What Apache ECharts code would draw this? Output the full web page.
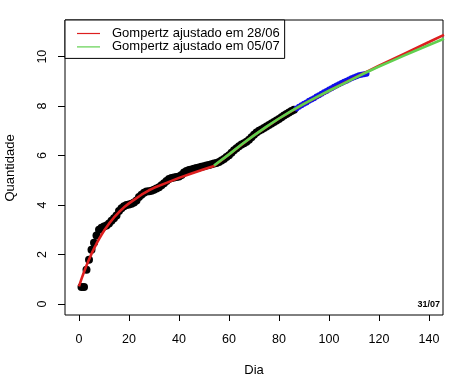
<!DOCTYPE html>
<html>
<head>
<meta charset="utf-8">
<script src="https://cdn.jsdelivr.net/npm/echarts@6/dist/echarts.min.js"></script>
<style>
html,body{margin:0;padding:0;background:#fff;}
#chart{width:457px;height:382px;}
</style>
</head>
<body>
<div id="chart"></div>
<script>
// ---- Data ----
const xTicks = [0, 20, 40, 60, 80, 100, 120, 140];
const yTicks = [0, 2, 4, 6, 8, 10];

// observed (black) : days 1..86
const obsFirstDay = 1;
const obsValues = [
  0.69, 0.69, 1.39, 1.79, 2.20, 2.48, 2.77, 3.00, 3.09, 3.14,
  3.18, 3.26, 3.37, 3.47, 3.58, 3.76, 3.87, 3.95, 4.00, 4.02,
  4.06, 4.11, 4.19, 4.33, 4.42, 4.50, 4.55, 4.56, 4.58, 4.62,
  4.67, 4.72, 4.80, 4.88, 4.97, 5.06, 5.10, 5.12, 5.14, 5.16,
  5.22, 5.32, 5.38, 5.42, 5.44, 5.47, 5.50, 5.52, 5.55, 5.57,
  5.60, 5.62, 5.65, 5.68, 5.70, 5.74, 5.80, 5.86, 5.94, 6.02,
  6.12, 6.22, 6.30, 6.38, 6.45, 6.50, 6.56, 6.64, 6.74, 6.84,
  6.93, 7.00, 7.06, 7.12, 7.18, 7.24, 7.30, 7.36, 7.42, 7.48,
  7.55, 7.62, 7.68, 7.74, 7.80, 7.85
];

// newer observations (blue) : days 87..115
const newFirstDay = 87;
const newValues = [
  7.90, 7.97, 8.04, 8.10, 8.15, 8.22, 8.27, 8.32, 8.39, 8.44,
  8.50, 8.56, 8.61, 8.67, 8.72, 8.78, 8.83, 8.88, 8.93, 8.98,
  9.03, 9.08, 9.13, 9.17, 9.21, 9.25, 9.27, 9.29, 9.31
];

// Gompertz fitted on 28/06 (red)
const redDays = [0, 1, 2, 3, 4, 5, 6, 7, 8, 9, 10, 12, 14, 16, 18, 20, 22, 25, 28, 30, 35, 40, 45, 50, 54,
                 60, 70, 80, 90, 100, 110, 115, 120, 130, 140, 146];
const redValues = [0.72, 1.02, 1.30, 1.56, 1.80, 2.03, 2.24, 2.44, 2.63, 2.80, 2.96, 3.25, 3.50, 3.72, 3.91, 4.07,
                   4.21, 4.42, 4.60, 4.70, 4.90, 5.10, 5.28, 5.45, 5.58,
                   6.05, 6.82, 7.50, 8.09, 8.62, 9.13, 9.38, 9.63, 10.11, 10.59, 10.88];

// Gompertz fitted on 05/07 (green)
const greenDays = [54, 60, 65, 70, 75, 80, 85, 90, 95, 100, 105, 110, 115, 120, 125, 130, 135, 140, 146];
const greenValues = [5.60, 6.05, 6.45, 6.82, 7.17, 7.50, 7.81, 8.09, 8.36, 8.62, 8.87, 9.12, 9.37,
                     9.60, 9.82, 10.04, 10.26, 10.47, 10.72];

const redName = 'Gompertz ajustado em 28/06';
const greenName = 'Gompertz ajustado em 05/07';
const dateNote = '31/07';

// ---- Build ----
const FONT = "'Liberation Sans', Arial, Helvetica, sans-serif";
const RED = '#DD1F1F';
const GREEN = '#61D04F';
const BLUE = '#1010E8';

const obsData = obsValues.map((v, i) => [obsFirstDay + i, v]);
const newData = newValues.map((v, i) => [newFirstDay + i, v]);
const redData = redDays.map((d, i) => [d, redValues[i]]);
const greenData = greenDays.map((d, i) => [d, greenValues[i]]);

const chart = echarts.init(document.getElementById('chart'), null, {renderer: 'canvas'});
chart.setOption({
  animation: false,
  backgroundColor: '#fff',
  textStyle: {fontFamily: FONT},
  grid: {left: 65, top: 20, right: 14, bottom: 67, show: true, borderColor: '#000', borderWidth: 1, backgroundColor: 'transparent'},
  xAxis: {
    type: 'value', min: -5.6, max: 145.6,
    axisLine: {show: false, onZero: false},
    splitLine: {show: false},
    axisTick: {show: true, inside: false, length: 6, lineStyle: {color: '#000'}, customValues: xTicks},
    axisLabel: {color: '#000', fontSize: 12.5, fontFamily: FONT, margin: 18, customValues: xTicks}
  },
  yAxis: {
    type: 'value', min: -0.44, max: 11.48,
    axisLine: {show: false, onZero: false},
    splitLine: {show: false},
    axisTick: {show: true, inside: false, length: 7, lineStyle: {color: '#000'}, customValues: yTicks},
    axisLabel: {color: '#000', fontSize: 12.5, fontFamily: FONT, margin: 16, rotate: 90, customValues: yTicks}
  },
  legend: {
    orient: 'vertical', left: 65, top: 20,
    padding: [7, 5, 5, 12],
    itemGap: 0.4,
    itemWidth: 23, itemHeight: 1.2,
    icon: 'rect',
    borderColor: '#000', borderWidth: 1, borderRadius: 0,
    backgroundColor: '#fff',
    textStyle: {color: '#000', fontSize: 13, fontFamily: FONT, padding: [0, 0, 0, 7]},
    data: [redName, greenName]
  },
  graphic: [
    {type: 'text', x: 254, y: 370, style: {text: 'Dia', fill: '#000', font: '13px ' + FONT, textAlign: 'center', textVerticalAlign: 'middle'}},
    {type: 'text', x: 10, y: 168, rotation: Math.PI / 2, style: {text: 'Quantidade', fill: '#000', font: '13px ' + FONT, textAlign: 'center', textVerticalAlign: 'middle'}},
    {type: 'text', x: 440, y: 305, style: {text: dateNote, fill: '#000', font: 'bold 9px ' + FONT, textAlign: 'right', textVerticalAlign: 'middle'}}
  ],
  series: [
    {type: 'scatter', name: 'obs', data: obsData, symbol: 'circle', symbolSize: 8, itemStyle: {color: '#000', opacity: 1}, z: 1},
    {type: 'scatter', name: 'novos', data: newData, symbol: 'circle', symbolSize: 6, itemStyle: {color: BLUE, opacity: 1}, z: 2},
    {type: 'line', name: redName, data: redData, showSymbol: false, smooth: false, clip: true,
     lineStyle: {color: RED, width: 2.6}, itemStyle: {color: RED}, z: 3},
    {type: 'line', name: greenName, data: greenData, showSymbol: false, smooth: false, clip: true,
     lineStyle: {color: GREEN, width: 2.6}, itemStyle: {color: GREEN}, z: 4}
  ]
});
</script>
</body>
</html>
